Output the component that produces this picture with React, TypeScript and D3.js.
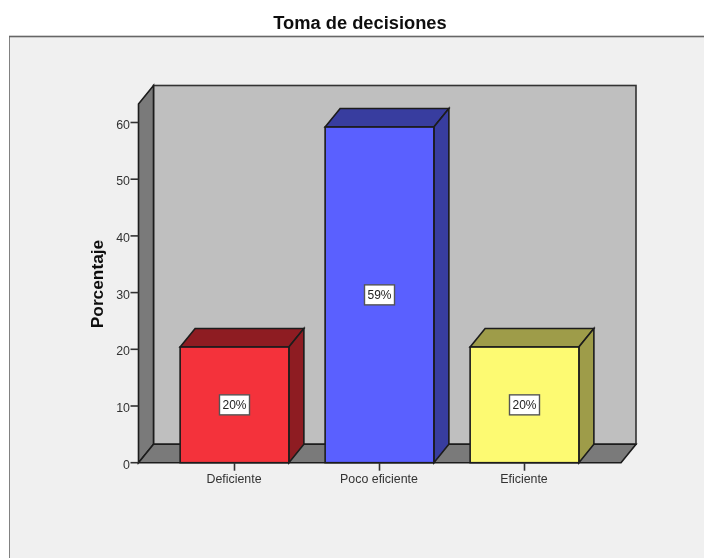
import React from "react";
import * as d3 from "d3";

const categories = ["Deficiente", "Poco eficiente", "Eficiente"];
const percentages = [20.4, 59.2, 20.4];
const valueLabels = ["20%", "59%", "20%"];
const frontColors = ["#f4333b", "#5a60ff", "#fdfa72"];
const sideColors = ["#8e1f24", "#383c9f", "#9e9c48"];
const yTicks = [0, 10, 20, 30, 40, 50, 60];

const W = 704;
const H = 558;
const dx = 15;
const dy = 18.5;
const FONT = "'Liberation Sans', Arial, sans-serif";
const EDGE = "#1c1c1c";
const SW = 1.6;

export default function App() {
  const y = d3.scaleLinear().domain([0, 60]).range([462.7, 122.5]);
  const x = d3
    .scaleBand<string>()
    .domain(categories)
    .range([162, 597])
    .paddingInner(0.25)
    .paddingOuter(0.125);

  const left = 138.5;
  const right = 621;
  const top = 104;
  const base = y(0);
  const poly = (pts: [number, number][]) => pts.map((p) => p.join(",")).join(" ");

  return (
    <svg
      width={W}
      height={H}
      viewBox={`0 0 ${W} ${H}`}
      style={{ position: "absolute", left: 0, top: 0, fontFamily: FONT }}
    >
      <defs>
        <filter id="soft" x="0" y="0" width="100%" height="100%">
          <feGaussianBlur stdDeviation="0.5" />
        </filter>
      </defs>
      <rect x={0} y={0} width={W} height={H} fill="#fff" />
      <g filter="url(#soft)">
        <rect x={9} y={36.5} width={W + 10} height={H} fill="#f0f0f0" stroke="#666" strokeWidth={1.6} />

        <text x={360} y={28.5} textAnchor="middle" fontSize={18.3} fontWeight="bold" fill="#111">
          Toma de decisiones
        </text>

        {/* back wall */}
        <rect
          x={left + dx}
          y={top - dy}
          width={right - left}
          height={base - top}
          fill="#bfbfbf"
          stroke="#333"
          strokeWidth={SW}
        />
        {/* left wall */}
        <polygon
          points={poly([
            [left, top],
            [left + dx, top - dy],
            [left + dx, base - dy],
            [left, base],
          ])}
          fill="#7a7a7a"
          stroke={EDGE}
          strokeWidth={SW}
        />
        {/* floor */}
        <polygon
          points={poly([
            [left, base],
            [left + dx, base - dy],
            [right + dx, base - dy],
            [right, base],
          ])}
          fill="#7a7a7a"
          stroke={EDGE}
          strokeWidth={SW}
        />

        {/* bars */}
        {categories.map((c, i) => {
          const bx = x(c) as number;
          const bw = x.bandwidth();
          const ty = y(percentages[i]);
          return (
            <g key={c}>
              <polygon
                points={poly([
                  [bx, ty],
                  [bx + dx, ty - dy],
                  [bx + bw + dx, ty - dy],
                  [bx + bw, ty],
                ])}
                fill={sideColors[i]}
                stroke={EDGE}
                strokeWidth={SW}
              />
              <polygon
                points={poly([
                  [bx + bw, ty],
                  [bx + bw + dx, ty - dy],
                  [bx + bw + dx, base - dy],
                  [bx + bw, base],
                ])}
                fill={sideColors[i]}
                stroke={EDGE}
                strokeWidth={SW}
              />
              <rect x={bx} y={ty} width={bw} height={base - ty} fill={frontColors[i]} stroke={EDGE} strokeWidth={SW} />
              <rect
                x={bx + bw / 2 - 15}
                y={y(percentages[i] / 2) - 10}
                width={30}
                height={20}
                fill="#fff"
                stroke="#555"
                strokeWidth={1.4}
              />
              <text
                x={bx + bw / 2}
                y={y(percentages[i] / 2) + 4.5}
                textAnchor="middle"
                fontSize={12}
                fill="#222"
              >
                {valueLabels[i]}
              </text>
              <line x1={bx + bw / 2} x2={bx + bw / 2} y1={base} y2={base + 8} stroke="#333" strokeWidth={SW} />
              <text x={bx + bw / 2 - 0.5} y={base + 20.5} textAnchor="middle" fontSize={12.4} fill="#333">
                {c}
              </text>
            </g>
          );
        })}

        {/* y axis */}
        {yTicks.map((t) => (
          <g key={t}>
            <line x1={left - 8} x2={left} y1={y(t)} y2={y(t)} stroke="#333" strokeWidth={SW} />
            <text x={left - 8.5} y={y(t) + 6} textAnchor="end" fontSize={12.4} fill="#333">
              {t}
            </text>
          </g>
        ))}
        <text
          transform={`translate(103,284) rotate(-90)`}
          textAnchor="middle"
          fontSize={17.3}
          fontWeight="bold"
          fill="#111"
        >
          Porcentaje
        </text>
      </g>
    </svg>
  );
}
